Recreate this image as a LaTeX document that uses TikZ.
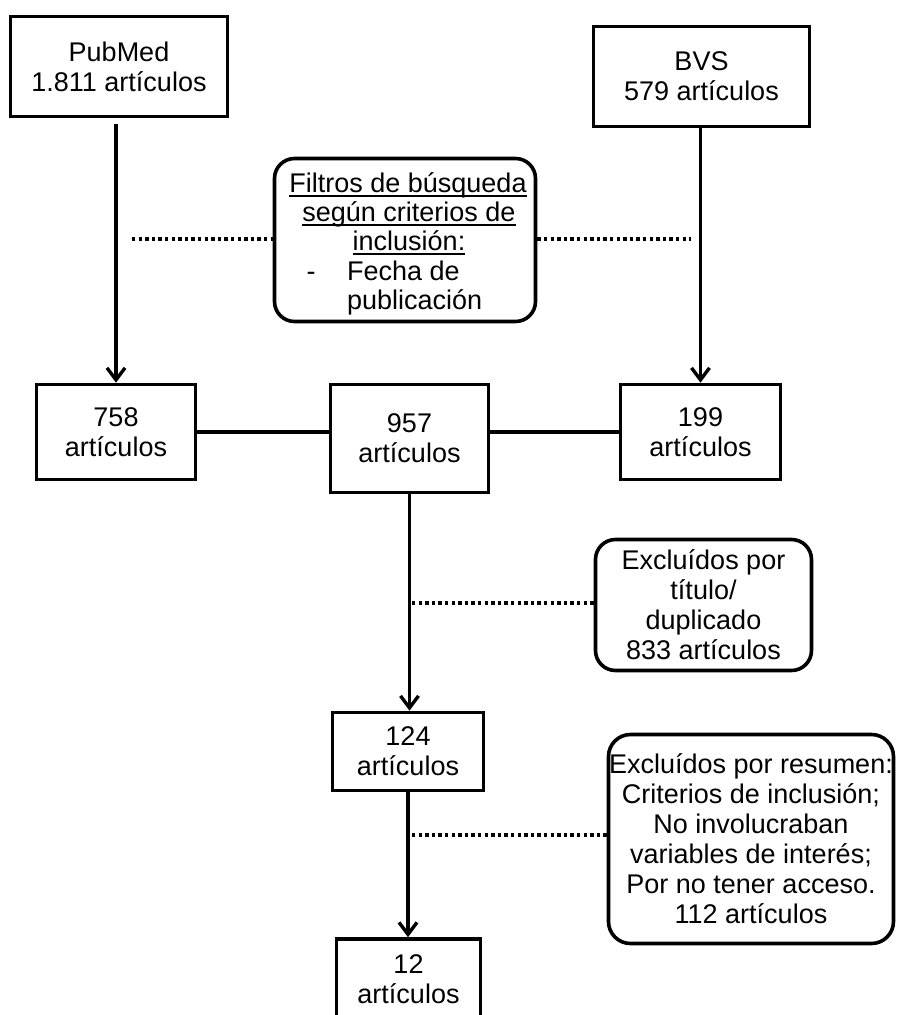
\documentclass[tikz,border=0pt]{standalone}
\usepackage{fontspec}
\setmainfont{Liberation Sans}
\usetikzlibrary{arrows.meta}
\newcommand\myul[1]{\leavevmode\setbox0\hbox{#1}\rlap{\rule[-5pt]{\wd0}{1.8pt}}\box0}
\begin{document}
\begin{tikzpicture}[x=1pt,y=-1pt,
  every node/.style={font=\fontsize{27}{30}\selectfont, text=black},
  box/.style={draw, line width=3.6pt, rectangle, inner sep=0pt, align=center},
  rbox/.style={box, rounded corners=20pt},
  conn/.style={line width=3.4pt},
  arr/.style={conn, -{Straight Barb[length=12pt,width=18pt]}},
  dotline/.style={line width=3.6pt, dash pattern=on 3.4pt off 3.2pt},
  lbl/.style={anchor=base, inner sep=0pt}
]
\fill[white] (0,0) rectangle (897,1015);
\useasboundingbox (0,0) rectangle (897,1015);

% boxes
\node[box, minimum width=217pt, minimum height=100pt] (pub) at (119,66.5) {PubMed\\1.811 artículos};
\node[box, minimum width=216pt, minimum height=100pt] (bvs) at (701.5,76.5) {BVS\\579 artículos};

\node[rbox, minimum width=261pt, minimum height=163pt] (filt) at (405,240) {};
\node[lbl] (f1) at (408,192) {\myul{Filtros de búsqueda}};
\node[lbl] (f2) at (409,221) {\myul{según criterios de}};
\node[lbl] (f3) at (409,250) {\myul{inclusión:}};
\node[lbl] (f4) at (311,280) {-};
\node[lbl, anchor=base west] (f5) at (347,280) {Fecha de};
\node[lbl, anchor=base west] (f6) at (347,309) {publicación};

\node[box, minimum width=159pt, minimum height=95pt] (b758) at (116,432) {758\\artículos};
\node[box, minimum width=158pt, minimum height=108pt] (b957) at (409.5,438.5) {957\\artículos};
\node[box, minimum width=160pt, minimum height=95pt] (b199) at (700.5,432) {199\\artículos};

\node[rbox, minimum width=216pt, minimum height=131pt] (ex1) at (703.5,605) {Excluídos por\\título/\\duplicado\\833 artículos};

\node[box, minimum width=151pt, minimum height=78pt] (b124) at (408,751.5) {124\\artículos};
\node[rbox, rounded corners=22pt, minimum width=285pt, minimum height=209pt] (ex2) at (751,839) {Excluídos por resumen:\\Criterios de inclusión;\\No involucraban\\variables de interés;\\Por no tener acceso.\\112 artículos};
\node[box, minimum width=144pt, minimum height=80pt] (b12) at (408.5,979) {12\\artículos};

% connectors
\draw[arr, shorten <=6pt] (pub.south -| b758.north) -- (b758.north);
\draw[arr] (bvs.south -| b199.north) -- (b199.north);
\draw[conn] (b758.east) -- (b758.east -| b957.west);
\draw[conn] (b199.west -| b957.east) -- (b199.west);
\draw[arr] (b957.south) -- (b957.south |- b124.north);
\draw[arr] (b124.south) -- (b124.south |- b12.north);

% dotted lines
\coordinate (dl) at (132,239);
\draw[dotline] (dl) -- (dl -| filt.west);
\coordinate (dr) at (691,239);
\draw[dotline] (dr -| filt.east) -- (dr);
\coordinate (d1) at (412,603);
\draw[dotline] (d1) -- (d1 -| ex1.west);
\coordinate (d2) at (412,835);
\draw[dotline] (d2) -- (d2 -| ex2.west);
\end{tikzpicture}
\end{document}
